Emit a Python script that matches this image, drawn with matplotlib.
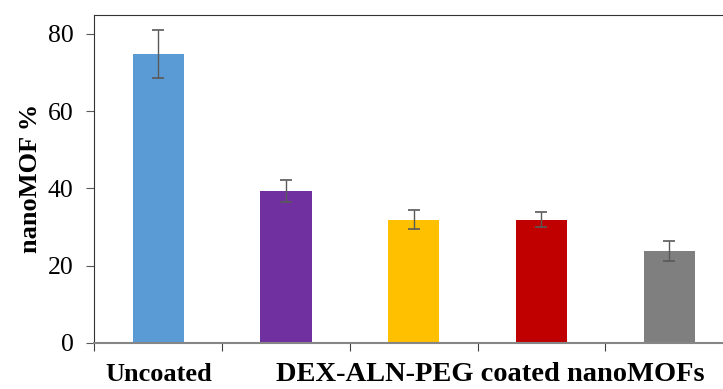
import matplotlib
matplotlib.use("Agg")
import matplotlib.pyplot as plt
from matplotlib.transforms import blended_transform_factory

plt.rcParams['font.family'] = ['Liberation Serif', 'DejaVu Serif']

groups = ["Uncoated", "DEX-ALN-PEG 1", "DEX-ALN-PEG 2", "DEX-ALN-PEG 3", "DEX-ALN-PEG 4"]
values = [74.8, 39.3, 31.9, 31.9, 23.8]
errors = [6.3, 2.9, 2.5, 2.0, 2.6]
colors = ["#5B9BD5", "#7030A0", "#FFC000", "#C00000", "#7F7F7F"]
yticks = [0, 20, 40, 60, 80]

fig = plt.figure(figsize=(7.23, 3.89), dpi=100)
# axes runs a little past the right edge, as in the original crop
ax = fig.add_axes([0.1306, 0.1183, 0.8833, 0.844])

x = [i + 0.5 for i in range(len(values))]
ax.bar(x, values, width=0.4, color=colors, zorder=2)
ax.errorbar(x, values, yerr=errors, fmt='none', ecolor='#595959',
            elinewidth=1, capsize=4, capthick=1.2, zorder=3)

ax.set_xlim(0, len(values))
ax.set_ylim(0, 85)
ax.set_yticks(yticks)
ax.set_xticks(range(len(values) + 1))
ax.set_xticklabels([])

ax.tick_params(axis='y', labelsize=18.5, length=6, width=0.8, color='#595959', pad=9)
ax.tick_params(axis='x', length=6, width=0.8, color='#404040')

for s in ['left', 'top']:
    ax.spines[s].set_linewidth(0.8)
    ax.spines[s].set_color('#333333')
ax.spines['right'].set_visible(False)
ax.spines['bottom'].set_color('#868686')
ax.spines['bottom'].set_linewidth(1.5)

ax.set_ylabel("nanoMOF %", fontsize=19, fontweight='bold', labelpad=4)

trans = blended_transform_factory(ax.transData, ax.transAxes)
ax.text(x[0], -0.095, "Uncoated", transform=trans, ha='center', va='center',
        fontsize=19, fontweight='bold')
ax.text(3.1, -0.095, "DEX-ALN-PEG coated nanoMOFs", transform=trans,
        ha='center', va='center', fontsize=20.5, fontweight='bold')

fig.savefig("out.png", dpi=100)
